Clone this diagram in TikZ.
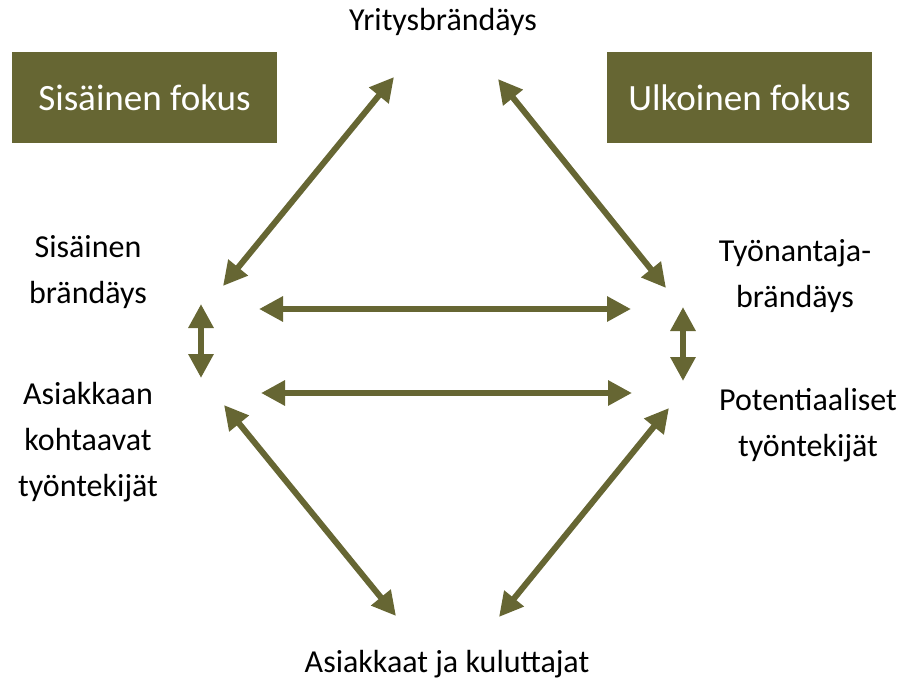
\documentclass[tikz,border=0pt]{standalone}
\usepackage{fontspec}
\setmainfont{Carlito}
\usetikzlibrary{arrows.meta}
\definecolor{oliivi}{HTML}{666633}

\begin{document}
\begin{tikzpicture}[x=0.75pt, y=-0.75pt, >={Triangle[length=18pt, width=18pt]}]
    \useasboundingbox (0,0) rectangle (901,682);
    \tikzset{
        fokus/.style={fill=oliivi, text=white, minimum width=199pt, minimum height=68pt, inner sep=0pt, font=\fontsize{27.8}{33}\selectfont},
        taso/.style={align=center, font=\fontsize{24}{34.5}\selectfont},
        nuoli/.style={<->, oliivi, line width=4.5pt}
    }

    % Otsikkolaatikot
    \node[fokus] (sisainen) at (144.5,97.5) {Sisäinen fokus};
    \node[fokus] (ulkoinen) at (739.5,97.5) {Ulkoinen fokus};

    % Tekstit
    \node[taso] (yritys) at (443,22) {Yritysbrändäys};
    \node[taso] (sisbrand) at (88,272) {Sisäinen\\brändäys};
    \node[taso] (asiakastyo) at (88,442) {Asiakkaan\\kohtaavat\\työntekijät};
    \node[taso] (tyonantaja) at (795,276) {Työnantaja-\\brändäys};
    \node[taso] (potentiaali) at (808,425) {Potentiaaliset\\työntekijät};
    \node[taso] (asiakkaat) at (447,664) {Asiakkaat ja kuluttajat};

    % Nuolten päätepisteet
    \coordinate (yv) at (394,77);   \coordinate (sy) at (223,286);
    \coordinate (yo) at (498,79);   \coordinate (ty) at (666,288);
    \coordinate (sa) at (201,304);  \coordinate (as) at (201,378);
    \coordinate (ta) at (683,307);  \coordinate (at) at (683,381);
    \coordinate (h1v) at (259,309); \coordinate (h1o) at (631,309);
    \coordinate (h2v) at (261,393); \coordinate (h2o) at (632,393);
    \coordinate (av) at (224,405);  \coordinate (ka) at (396,616);
    \coordinate (po) at (669,408);  \coordinate (kp) at (499,617);

    % Nuolet
    \draw[nuoli] (yv) -- (sy);
    \draw[nuoli] (yo) -- (ty);
    \draw[nuoli] (sa) -- (as);
    \draw[nuoli] (ta) -- (at);
    \draw[nuoli] (h1v) -- (h1o);
    \draw[nuoli] (h2v) -- (h2o);
    \draw[nuoli] (av) -- (ka);
    \draw[nuoli] (po) -- (kp);
\end{tikzpicture}
\end{document}
